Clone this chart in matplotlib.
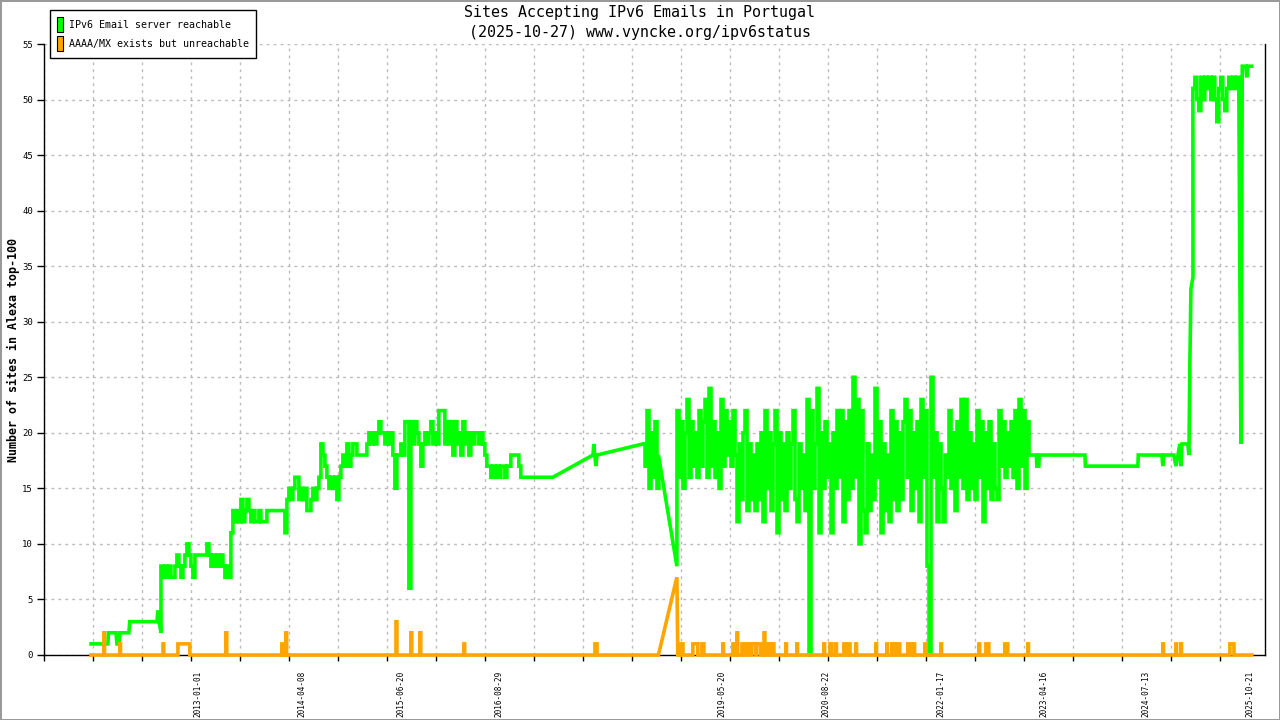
import matplotlib
matplotlib.use('Agg')
import matplotlib.pyplot as plt
from matplotlib.patches import Patch
import pandas as pd

plt.rcParams['font.family'] = ['DejaVu Sans Mono', 'DejaVu Sans']

title_lines = ['Sites Accepting IPv6 Emails in Portugal',
               '(2025-10-27) www.vyncke.org/ipv6status']
y_title = 'Number of sites in Alexa top-100'
series_names = ['IPv6 Email server reachable', 'AAAA/MX exists but unreachable']
date_labels = ['2013-01-01', '2014-04-08', '2015-06-20', '2016-08-29', '2019-05-20',
               '2020-08-22', '2022-01-17', '2023-04-16', '2024-07-13', '2025-10-21']

# green series: sparse parts as dates/values, dense parts as (first, last, values)
green_start_dates = ['2011-09-14', '2011-11-28', '2011-11-30', '2012-01-03', '2012-01-07',
                     '2012-01-16', '2012-01-20', '2012-02-29', '2012-03-04', '2012-07-03',
                     '2012-07-07', '2012-07-12', '2012-07-21']
green_start_vals = [1, 1, 2, 2, 1, 1, 2, 2, 3, 3, 4, 3, 2]

green_dense1 = ('2012-07-25', '2016-12-28', [
    8, 7, 8, 7, 8, 7, 7, 8, 9, 8,
    7, 8, 9, 10, 9, 8, 7, 9, 9, 9,
    9, 9, 9, 10, 9, 8, 9, 8, 9, 8,
    9, 8, 7, 8, 7, 11, 13, 12, 13, 12,
    14, 12, 13, 14, 13, 12, 13, 12, 12, 13,
    12, 12, 12, 13, 13, 13, 13, 13, 13, 13,
    13, 13, 11, 14, 15, 14, 15, 16, 16, 14,
    15, 14, 15, 13, 13, 14, 15, 14, 15, 16,
    19, 18, 17, 16, 15, 16, 15, 16, 14, 16,
    17, 18, 17, 19, 17, 18, 19, 19, 18, 18,
    18, 18, 18, 19, 20, 19, 20, 19, 20, 21,
    20, 20, 19, 20, 19, 20, 18, 15, 18, 18,
    19, 18, 21, 21, 6, 21, 19, 21, 20, 19,
    17, 19, 20, 19, 20, 21, 19, 20, 19, 22,
    22, 22, 19, 21, 19, 21, 18, 21, 19, 20,
    18, 21, 19, 20, 18, 20, 19, 20, 20, 19,
    20, 19, 18, 17, 17, 16, 17, 16, 17, 16,
    17, 17, 16, 17, 17, 18, 18, 18, 18, 17,
    16, 16, 16])

green_mid_dates = ['2017-04-27', '2017-10-22', '2017-10-26', '2017-11-04', '2017-11-09', '2018-06-01']
green_mid_vals = [16, 18, 19, 17, 18, 19]

green_dense2 = ('2018-06-06', '2018-08-07', [19, 17, 22, 15, 20, 16, 21, 15])

green_gap_dates = ['2018-08-09', '2018-10-30']
green_gap_vals = [18, 8]

green_dense3 = ('2018-11-04', '2023-02-15', [
    22, 16, 21, 15, 20, 23, 16, 21, 17, 20,
    16, 22, 17, 21, 23, 16, 24, 17, 21, 16,
    20, 15, 23, 17, 22, 18, 21, 17, 22, 18,
    12, 19, 14, 20, 22, 13, 19, 14, 18, 13,
    19, 14, 20, 12, 22, 15, 20, 13, 19, 22,
    11, 20, 14, 19, 13, 20, 15, 19, 22, 14,
    12, 19, 15, 18, 13, 23, 0, 22, 15, 19,
    24, 11, 20, 15, 21, 16, 19, 11, 20, 15,
    22, 16, 22, 12, 21, 14, 22, 15, 25, 16,
    23, 10, 22, 13, 11, 19, 13, 18, 14, 24,
    16, 21, 11, 19, 13, 18, 12, 22, 14, 21,
    13, 20, 14, 21, 23, 16, 22, 13, 20, 15,
    21, 12, 23, 16, 22, 8, 0, 25, 16, 20,
    12, 19, 15, 12, 18, 16, 22, 15, 20, 13,
    21, 16, 23, 15, 23, 14, 20, 15, 19, 14,
    22, 16, 21, 12, 20, 15, 21, 14, 19, 15,
    14, 22, 17, 21, 16, 20, 17, 21, 16, 22,
    15, 23, 17, 22, 15, 21, 18])

green_late_dates = ['2023-03-15', '2023-03-17', '2023-03-26', '2023-03-28', '2023-10-17',
                    '2023-10-19', '2024-06-08', '2024-06-10', '2024-09-23', '2024-09-27',
                    '2024-10-01', '2024-11-15', '2024-11-24', '2024-12-03', '2024-12-12',
                    '2024-12-16', '2024-12-21', '2025-01-16', '2025-01-21', '2025-01-25',
                    '2025-01-30', '2025-02-08']
green_late_vals = [18, 17, 17, 18, 18, 17, 17, 18, 18, 17, 18,
                   18, 17, 18, 19, 17, 19, 19, 18, 26, 33, 34]

green_dense4 = ('2025-02-12', '2025-08-26', [
    51, 52, 50, 49, 52, 50, 52, 51, 52, 50,
    52, 50, 48, 51, 52, 50, 49, 51, 52, 51,
    52, 51, 52])

green_end_dates = ['2025-09-04', '2025-09-09', '2025-09-15', '2025-10-01', '2025-10-05',
                   '2025-10-09', '2025-10-27']
green_end_vals = [35, 19, 53, 53, 52, 53, 53]

# orange series: zero line with short spikes (start, length in days, height)
orange_first, orange_last = '2011-09-14', '2025-10-27'
spike_dates = ['2011-11-10', '2012-01-20', '2012-07-30', '2012-10-04', '2013-05-05',
               '2014-01-09', '2014-01-27', '2015-05-31', '2015-08-05', '2015-09-14',
               '2016-03-28', '2017-10-31', '2018-11-17', '2019-01-09', '2019-02-18',
               '2019-05-22', '2019-07-06', '2019-07-24', '2019-08-15', '2019-09-06',
               '2019-09-28', '2019-10-20', '2019-11-21', '2019-12-04', '2019-12-22',
               '2020-02-26', '2020-04-15', '2020-08-13', '2020-09-09', '2020-10-05',
               '2020-11-10', '2020-11-28', '2021-01-02', '2021-04-01', '2021-05-20',
               '2021-06-11', '2021-07-03', '2021-08-21', '2021-09-17', '2021-11-05',
               '2022-01-15', '2022-07-03', '2022-08-03', '2022-10-26', '2023-02-05',
               '2024-09-27', '2024-11-24', '2024-12-16', '2025-07-22']
spike_days = [3, 3, 3, 53, 4, 3, 3, 4, 4, 4,
              3, 9, 9, 22, 9, 3, 13, 3, 13, 13,
              18, 18, 4, 13, 13, 3, 3, 3, 9, 3,
              9, 9, 3, 3, 3, 13, 13, 13, 3, 3,
              3, 3, 13, 13, 3, 3, 3, 3, 18]
spike_heights = [2, 1, 1, 1, 2, 1, 2, 3, 2, 2,
                 1, 1, 1, 1, 1, 1, 1, 2, 1, 1,
                 1, 1, 2, 1, 1, 1, 1, 1, 1, 1,
                 1, 1, 1, 1, 1, 1, 1, 1, 1, 1,
                 1, 1, 1, 1, 1, 1, 1, 1, 1]
ramp_dates = ['2018-08-09', '2018-10-30', '2018-11-03']
ramp_vals = [0, 7, 0]


def dense(first, last, vals):
    # each sample holds its value over its own interval (blocky like the original)
    t = pd.date_range(first, last, periods=len(vals))
    half = (t[1] - t[0]) / 2
    xs, ys = [], []
    for ti, v in zip(t, vals):
        xs += [ti - half, ti + half]
        ys += [v, v]
    return xs, ys


pieces = [
    (list(pd.to_datetime(green_start_dates)), green_start_vals),
    dense(*green_dense1),
    (list(pd.to_datetime(green_mid_dates)), green_mid_vals),
    dense(*green_dense2),
    (list(pd.to_datetime(green_gap_dates)), green_gap_vals),
    dense(*green_dense3),
    (list(pd.to_datetime(green_late_dates)), green_late_vals),
    dense(*green_dense4),
    (list(pd.to_datetime(green_end_dates)), green_end_vals),
]
green_x, green_y = [], []
for d, v in pieces:
    green_x += list(d)
    green_y += list(v)

pts = [(pd.Timestamp(orange_first), 0), (pd.Timestamp(orange_last), 0)]
for d, w, h in zip(spike_dates, spike_days, spike_heights):
    t0 = pd.Timestamp(d)
    t1 = t0 + pd.Timedelta(days=w)
    pts += [(t0, 0), (t0, h), (t1, h), (t1, 0)]
pts += list(zip(pd.to_datetime(ramp_dates), ramp_vals))
pts.sort(key=lambda p: p[0])
orange_x = [p[0] for p in pts]
orange_y = [p[1] for p in pts]

green = '#00ff00'
orange = '#ffa500'

fig = plt.figure(figsize=(12.8, 7.2), dpi=100)
fig.patch.set_edgecolor('#999999')
fig.patch.set_linewidth(2)
ax = fig.add_axes([44 / 1280, 65 / 720, 1221 / 1280, 611 / 720])

ax.plot(green_x, green_y, color=green, lw=2.6, solid_joinstyle='miter', clip_on=False, zorder=3)
ax.plot(orange_x, orange_y, color=orange, lw=2.6, solid_joinstyle='miter', clip_on=False, zorder=4)

ax.set_xlim(pd.Timestamp('2011-02-17'), pd.Timestamp('2025-12-25'))
ax.set_ylim(0, 55)
ax.set_yticks(range(0, 56, 5))

minor_ticks = list(pd.date_range('2011-02-17', '2025-06-08', periods=25)) + [pd.Timestamp('2025-10-21')]
ax.set_xticks(minor_ticks, minor=True)
ax.set_xticks(list(pd.to_datetime(date_labels)))
ax.set_xticklabels(date_labels)

ax.tick_params(axis='x', which='major', length=0, pad=11, labelsize=5.5, labelrotation=90)
ax.tick_params(axis='x', which='minor', length=4, width=1, direction='out')
ax.tick_params(axis='y', length=5, width=1, direction='out', pad=3, labelsize=6.5)

ax.grid(axis='y', which='major', color='#bbbbbb', linestyle=(0, (2, 3)), linewidth=1)
ax.grid(axis='x', which='minor', color='#bbbbbb', linestyle=(0, (2, 3)), linewidth=1)
ax.grid(axis='x', which='major', visible=False)
ax.set_axisbelow(True)

ax.spines['top'].set_visible(False)
for s in ['left', 'bottom', 'right']:
    ax.spines[s].set_color('black')
    ax.spines[s].set_linewidth(1)

fig.text(0.5, 1 - 13 / 720, title_lines[0], ha='center', va='center', fontsize=10.8)
fig.text(0.5, 1 - 32 / 720, title_lines[1], ha='center', va='center', fontsize=10.8)
fig.text(13 / 1280, 1 - 350 / 720, y_title, rotation=90, ha='center', va='center',
         fontsize=8.4, fontweight='bold')

handles = [Patch(facecolor=green, edgecolor='black', linewidth=0.8),
           Patch(facecolor=orange, edgecolor='black', linewidth=0.8)]
leg = fig.legend(handles, series_names, loc='upper left', bbox_to_anchor=(50 / 1280, 1 - 10 / 720),
                 borderaxespad=0, fontsize=7.2, handlelength=0.6, handleheight=2.0,
                 handletextpad=0.6, labelspacing=0.35, borderpad=0.7,
                 fancybox=False, framealpha=1, edgecolor='black')
leg.get_frame().set_linewidth(1)

fig.savefig('out.png', dpi=100)
